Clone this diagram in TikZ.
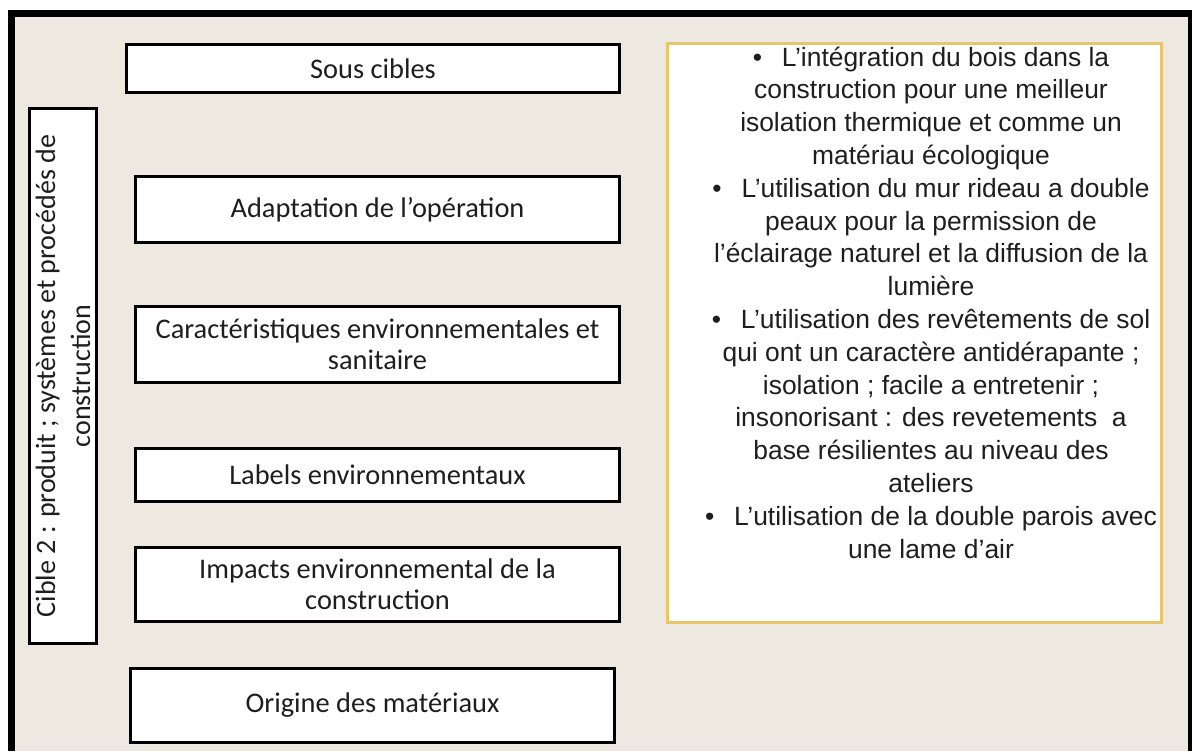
\documentclass[tikz,border=0pt]{standalone}
\usepackage{fontspec}
\setmainfont{Liberation Sans}
\newfontfamily\cellfont{Carlito}
\usetikzlibrary{positioning}
\definecolor{Frame}{HTML}{EDE9E1}
\definecolor{Gold}{HTML}{E8C46C}
\definecolor{Ink}{HTML}{1E1E1E}
\tikzset{
  cellbox/.style={draw=black,line width=1.6pt,fill=white,font=\cellfont\fontsize{14.2}{15.5}\selectfont,text=Ink,align=center,inner sep=2pt},
  sidebox/.style={cellbox,font=\cellfont\fontsize{14}{17.5}\selectfont,rotate=90},
  goldbox/.style={draw=Gold,line width=1.5pt,fill=white},
  itemtext/.style={font=\fontsize{13.2}{16.4}\selectfont,align=center,text=Ink,inner sep=0pt}
}
\begin{document}
\begin{tikzpicture}
  \useasboundingbox (0,0) rectangle (596pt,-375.5pt);
  \fill[Frame] (4pt,-5pt) rectangle (596pt,-375.5pt);
  \draw[line width=3.5pt] (5.75pt,-375.5pt) -- (5.75pt,-6.75pt) -- (596pt,-6.75pt);
  \draw[line width=2pt] (595pt,-6.75pt) -- (595pt,-375.5pt);
  \node[cellbox,minimum width=246.4pt,minimum height=23.9pt] (sous) at (186.5pt,-34.25pt) {Sous cibles};
  \node[cellbox,below=40.5pt of sous,xshift=2.25pt,minimum width=241.9pt,minimum height=32.9pt] (adapt) {Adaptation de l’opération};
  \node[cellbox,below=30.5pt of adapt,minimum width=241.9pt,minimum height=37.9pt] (carac) {Caractéristiques environnementales et\\sanitaire};
  \node[cellbox,below=31.5pt of carac,minimum width=241.9pt,minimum height=26.4pt] (labels) {Labels environnementaux};
  \node[cellbox,below=21.5pt of labels,minimum width=241.9pt,minimum height=36.9pt] (impacts) {Impacts environnemental de la\\construction};
  \node[cellbox,below=22pt of impacts,xshift=-2.5pt,minimum width=241.9pt,minimum height=36.9pt] (origine) {Origine des matériaux};
  \node[sidebox,minimum width=267.4pt,minimum height=33.4pt] (cible) at (31.5pt,-188pt) {Cible 2 : produit ; systèmes et procédés de\\construction};
  \node[goldbox,anchor=north west,minimum width=247pt,minimum height=289.5pt] (mesures) at ([xshift=22.5pt,yshift=0.5pt]sous.north east) {};
  \node[itemtext] (liste) at ([xshift=8.25pt,yshift=15.25pt]mesures.center) {%
    •\hspace{0.75em}L’intégration du bois dans la\\
    construction pour une meilleur\\
    isolation thermique et comme un\\
    matériau écologique\\
    •\hspace{0.75em}L’utilisation du mur rideau a double\\
    peaux pour la permission de\\
    l’éclairage naturel et la diffusion de la\\
    lumière\\
    •\hspace{0.75em}L’utilisation des revêtements de sol\\
    qui ont un caractère antidérapante ;\\
    isolation ; facile a entretenir ;\\
    insonorisant : des revetements\ \ a\\
    base résilientes au niveau des\\
    ateliers\\
    •\hspace{0.75em}L’utilisation de la double parois avec\\
    une lame d’air};
\end{tikzpicture}
\end{document}
